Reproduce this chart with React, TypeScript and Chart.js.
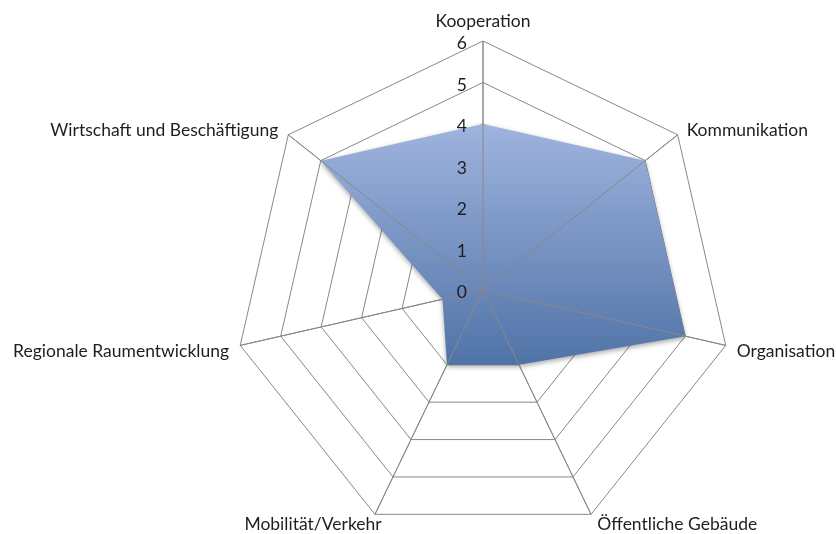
import React, { useEffect, useRef } from "react";
import { Chart, registerables } from "chart.js";

Chart.register(...registerables);

const categories = [
  "Kooperation",
  "Kommunikation",
  "Organisation",
  "Öffentliche Gebäude",
  "Mobilität/Verkehr",
  "Regionale Raumentwicklung",
  "Wirtschaft und Beschäftigung",
];
const values = [4, 5, 5, 2, 2, 1, 5];
const scaleMin = 0;
const scaleMax = 6;
const scaleStep = 1;

const FONT = "Lato, 'Open Sans', 'DejaVu Sans', sans-serif";
const FONT_SIZE = 17.5;
const TEXT_COLOR = "#1e1e1e";
const GRID_COLOR = "#888888";
const FILL_TOP = "#9fb4de";
const FILL_BOTTOM = "#5073a7";

// label placement relative to the outer vertex of each axis (styling only)
const labelPlacement: { align: CanvasTextAlign; dx: number; dy: number }[] = [
  { align: "center", dx: 0, dy: -14 },
  { align: "left", dx: 9, dy: 1 },
  { align: "left", dx: 11, dy: 11.6 },
  { align: "left", dx: 6.3, dy: 15.7 },
  { align: "right", dx: 6.7, dy: 15.7 },
  { align: "right", dx: -11.2, dy: 11.9 },
  { align: "right", dx: -10, dy: 1.7 },
];

const decorPlugin = {
  id: "decor",
  beforeDatasetsDraw(chart: any) {
    const ctx = chart.ctx;
    ctx.save();
    ctx.shadowColor = "rgba(0,0,0,0.35)";
    ctx.shadowBlur = 5;
    ctx.shadowOffsetX = 0;
    ctx.shadowOffsetY = 2;
  },
  afterDatasetsDraw(chart: any) {
    const ctx = chart.ctx;
    ctx.restore();
    // axis spokes drawn over the filled area
    const s = chart.scales.r;
    ctx.save();
    ctx.strokeStyle = GRID_COLOR;
    ctx.lineWidth = 1;
    categories.forEach((c, i) => {
      const p = s.getPointPositionForValue(i, scaleMax);
      ctx.beginPath();
      ctx.moveTo(s.xCenter, s.yCenter);
      ctx.lineTo(p.x, p.y);
      ctx.stroke();
    });
    ctx.restore();
  },
  afterDraw(chart: any) {
    const ctx = chart.ctx;
    const s = chart.scales.r;
    ctx.save();
    ctx.font = `${FONT_SIZE}px ${FONT}`;
    ctx.fillStyle = TEXT_COLOR;
    ctx.textBaseline = "alphabetic";
    // tick labels
    ctx.textAlign = "right";
    s.ticks.forEach((t: any) => {
      const d = s.getDistanceFromCenterForValue(t.value);
      ctx.fillText(String(t.value), s.xCenter - 16, s.yCenter - d + 8);
    });
    // point labels
    categories.forEach((c, i) => {
      const p = s.getPointPositionForValue(i, scaleMax);
      const pl = labelPlacement[i];
      ctx.textAlign = pl.align;
      ctx.fillText(c, p.x + pl.dx, p.y + pl.dy);
    });
    ctx.restore();
  },
};

export default function App() {
  const canvasRef = useRef<HTMLCanvasElement | null>(null);

  useEffect(() => {
    if (!canvasRef.current) return;
    const chart = new Chart(canvasRef.current, {
      type: "radar",
      data: {
        labels: categories,
        datasets: [
          {
            data: values,
            fill: true,
            borderWidth: 0,
            pointRadius: 0,
            backgroundColor: (context: any) => {
              const ch = context.chart;
              const s = ch.scales && ch.scales.r;
              if (!s || !ch.chartArea || s.xCenter === undefined) return FILL_BOTTOM;
              const ys = values.map((v, i) => s.getPointPositionForValue(i, v).y);
              const g = ch.ctx.createLinearGradient(0, Math.min(...ys), 0, Math.max(...ys));
              g.addColorStop(0, FILL_TOP);
              g.addColorStop(1, FILL_BOTTOM);
              return g;
            },
          },
        ],
      },
      options: {
        responsive: true,
        maintainAspectRatio: false,
        animation: false,
        plugins: {
          legend: { display: false },
          tooltip: { enabled: false },
        },
        elements: {
          line: { tension: 0 },
          point: { radius: 0 },
        },
        scales: {
          r: {
            min: scaleMin,
            max: scaleMax,
            beginAtZero: true,
            ticks: { display: false, stepSize: scaleStep },
            pointLabels: { display: false },
            grid: { color: GRID_COLOR, lineWidth: 1, circular: false },
            angleLines: { color: GRID_COLOR, lineWidth: 1 },
            afterSetDimensions: (s: any) => {
              s.xCenter = 483;
              s.yCenter = 290;
              s.drawingArea = 249;
            },
          } as any,
        },
      },
      plugins: [decorPlugin],
    });
    return () => chart.destroy();
  }, []);

  return (
    <div style={{ position: "absolute", left: 0, top: 0, width: 836, height: 534, background: "#fff" }}>
      <canvas ref={canvasRef} />
    </div>
  );
}
